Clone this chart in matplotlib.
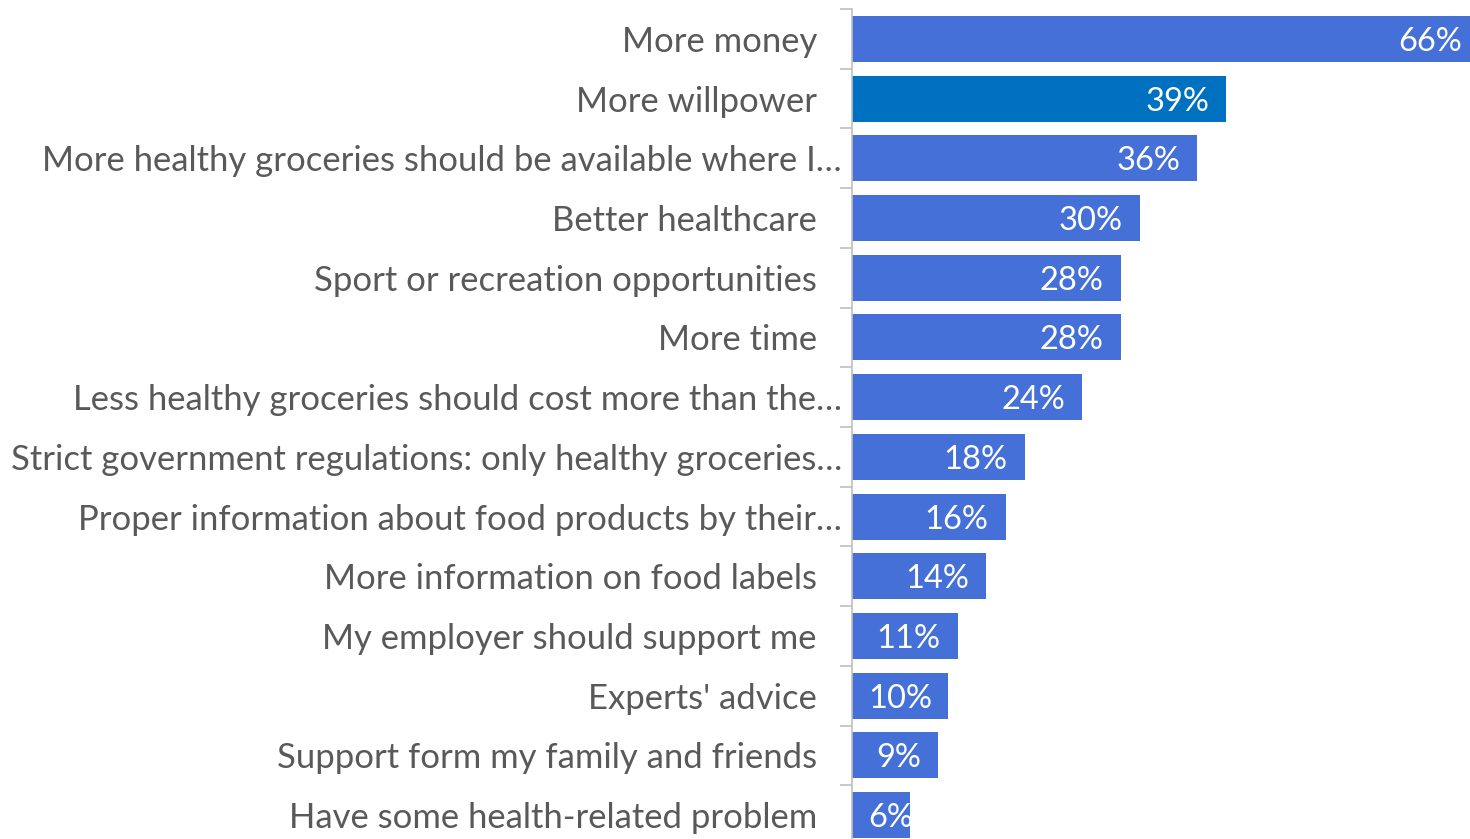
import matplotlib
matplotlib.use("Agg")
import matplotlib.pyplot as plt
from matplotlib.transforms import offset_copy

plt.rcParams['font.family'] = ['Lato', 'DejaVu Sans']

categories = [
    "More money",
    "More willpower",
    "More healthy groceries should be available where I…",
    "Better healthcare",
    "Sport or recreation opportunities",
    "More time",
    "Less healthy groceries should cost more than the…",
    "Strict government regulations: only healthy groceries…",
    "Proper information about food products by their…",
    "More information on food labels",
    "My employer should support me",
    "Experts' advice",
    "Support form my family and friends",
    "Have some health-related problem",
]
values = [66, 39, 36, 30, 28, 28, 24, 18, 16, 14, 11, 10, 9, 6]
highlight = "More willpower"

BAR_COLOR = "#4570D8"
HIGHLIGHT_COLOR = "#0070C0"
TEXT_COLOR = "#595959"
AXIS_COLOR = "#BFBFBF"

W, H, DPI = 1470, 839, 100
PT = 72 / DPI  # points per pixel
fig = plt.figure(figsize=(W / DPI, H / DPI), dpi=DPI)
ax = fig.add_axes([852 / W, -6 / H, (W - 852) / W, 836 / H])

n = len(categories)
ypos = list(range(n))
colors = [HIGHLIGHT_COLOR if c == highlight else BAR_COLOR for c in categories]
ax.barh(ypos, values, height=0.77, color=colors, zorder=2)

x_max = 64.4
ax.set_xlim(0, x_max)
ax.set_ylim(n - 0.5, -0.5)

ax.set_yticks(ypos)
ax.set_yticklabels([])
ax.tick_params(axis='y', which='major', length=0)
ax.set_yticks([i - 0.5 for i in range(n + 1)], minor=True)
ax.tick_params(axis='y', which='minor', length=12 * PT, width=1.2,
               color=AXIS_COLOR, direction='out')
ax.set_xticks([])

for side in ("top", "right", "bottom"):
    ax.spines[side].set_visible(False)
ax.spines["left"].set_color(AXIS_COLOR)
ax.spines["left"].set_linewidth(1.2)

# category labels; truncated ones sit closer to the axis
ytrans = ax.get_yaxis_transform()
for y, c in zip(ypos, categories):
    gap = 10 if c.endswith("…") else 35
    tr = offset_copy(ytrans, fig=fig, x=-gap, y=-3, units='dots')
    ax.text(0, y, c, transform=tr, fontsize=24.9, color=TEXT_COLOR,
            ha="right", va="center")

# value labels inside the bar ends
fig.canvas.draw()
renderer = fig.canvas.get_renderer()
px_per_unit = ax.transData.transform((1, 0))[0] - ax.transData.transform((0, 0))[0]
label_tr = offset_copy(ax.transData, fig=fig, x=0, y=-3, units='dots')
for y, v in zip(ypos, values):
    t = ax.text(0, y, f"{v}%", fontsize=23.5, color="white", transform=label_tr,
                va="center", ha="left", zorder=3)
    tw = t.get_window_extent(renderer).width
    end_px = min(v, x_max) * px_per_unit
    right = end_px - (8 if v > x_max else 17)
    left = max(right - tw, 16)
    t.set_x(left / px_per_unit)

fig.savefig("out.png", dpi=DPI)
